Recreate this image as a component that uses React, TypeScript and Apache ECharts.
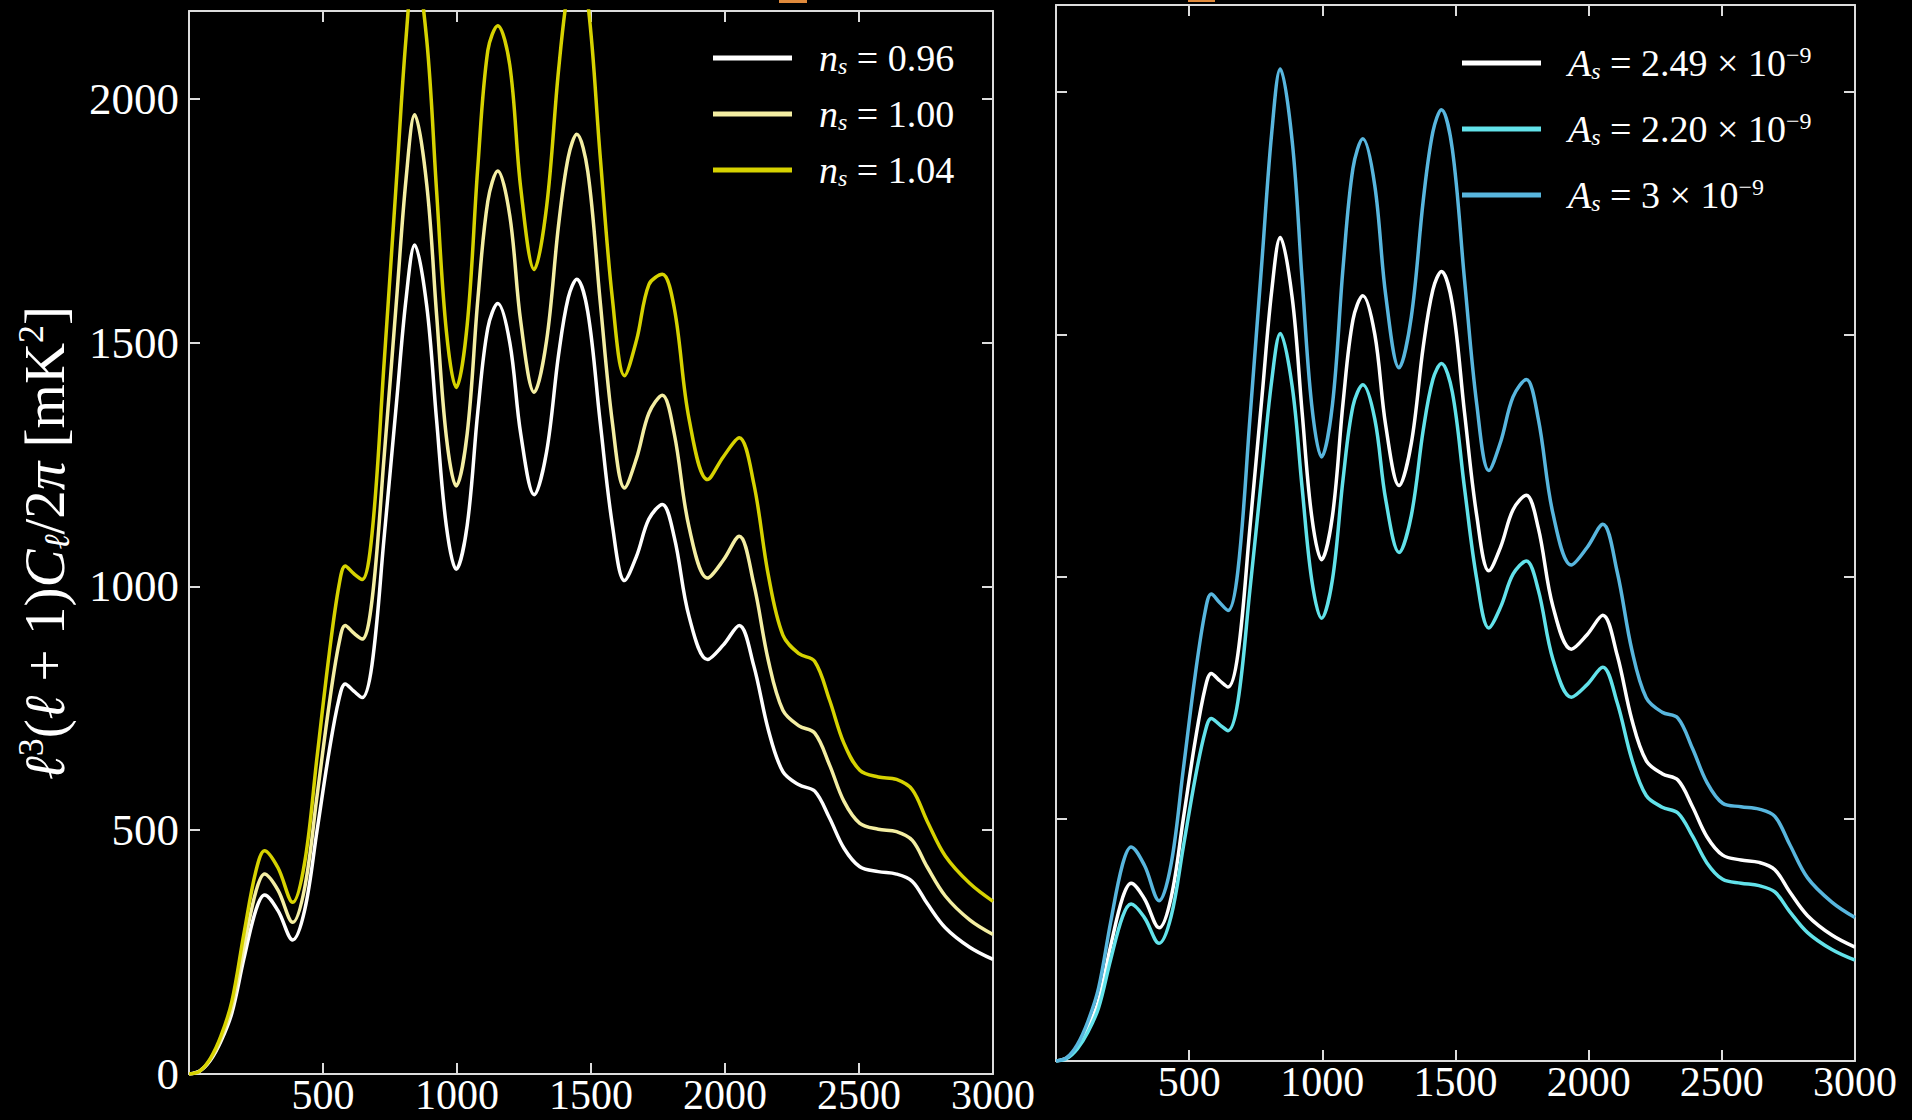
import { useEffect, useRef } from "react";
import * as echarts from "echarts";

// Multipole moments at which the spectra are sampled
const ells = [
  0, 40, 80, 120, 160, 205, 250, 282, 332, 387, 432, 478, 523, 560, 583, 615, 646, 683, 728, 774,
  810, 842, 887, 924, 960, 997, 1038, 1078, 1115, 1152, 1197, 1238, 1288, 1334, 1379, 1415, 1447,
  1488, 1534, 1580, 1625, 1670, 1716, 1766, 1811, 1866, 1935, 1994, 2053, 2107, 2162, 2216, 2276,
  2335, 2390, 2444, 2503, 2572, 2640, 2699, 2754, 2822, 2913, 3000,
];

// Fiducial spectrum: n_s = 0.96, A_s = 2.49e-9  [mK^2]
const fiducial = [
  0, 6, 28, 68, 125, 237, 337, 367, 335, 275, 337, 500, 662, 770, 800, 785, 772, 840, 1100, 1375,
  1590, 1700, 1575, 1340, 1125, 1035, 1125, 1360, 1530, 1580, 1500, 1312, 1188, 1275, 1475, 1592, 1630,
  1563, 1338, 1125, 1012, 1062, 1138, 1168, 1100, 938, 850, 880, 920, 838, 705, 620, 593,
  580, 525, 463, 425, 415, 410, 395, 350, 300, 260, 235,
];

// n_s = 1.00
const nsOne = [
  0, 6, 30, 73, 137, 261, 375, 410, 377, 311, 383, 571, 758, 884, 920, 904, 892, 972, 1265, 1585,
  1836, 1967, 1825, 1556, 1308, 1206, 1313, 1590, 1790, 1852, 1760, 1542, 1398, 1503, 1741, 1880, 1927,
  1851, 1586, 1335, 1202, 1263, 1355, 1392, 1312, 1121, 1017, 1054, 1103, 1006, 847, 746, 714,
  699, 634, 559, 514, 502, 497, 479, 425, 365, 316, 286,
];

// n_s = 1.04
const nsHigh = [
  0, 6, 32, 79, 149, 288, 417, 458, 423, 352, 435, 651, 861, 1003, 1042, 1026, 1014, 1108, 1458, 1832,
  2126, 2281, 2121, 1810, 1525, 1408, 1536, 1863, 2099, 2150, 2069, 1816, 1650, 1777, 2059, 2226, 2284,
  2197, 1884, 1589, 1432, 1505, 1619, 1640, 1570, 1343, 1219, 1266, 1305, 1212, 1022, 900, 862,
  846, 767, 678, 623, 609, 604, 583, 519, 447, 391, 354,
];

// A_s = 2.20e-9
const asLow = [
  0, 5, 25, 60, 110, 209, 298, 324, 296, 243, 298, 442, 585, 680, 707, 694, 682, 742, 972, 1215,
  1405, 1502, 1392, 1184, 994, 914, 994, 1202, 1352, 1396, 1325, 1159, 1050, 1126, 1303, 1407, 1440,
  1381, 1182, 994, 894, 938, 1005, 1032, 972, 829, 751, 777, 813, 740, 623, 548, 524,
  512, 464, 409, 375, 367, 362, 349, 309, 265, 230, 208,
];

// A_s = 3e-9
const asHigh = [
  0, 7, 34, 82, 151, 286, 406, 442, 404, 331, 406, 602, 798, 928, 964, 946, 930, 1012, 1325, 1657,
  1916, 2048, 1898, 1614, 1355, 1247, 1355, 1639, 1843, 1904, 1807, 1581, 1431, 1536, 1777, 1918, 1964,
  1883, 1612, 1355, 1219, 1279, 1371, 1407, 1325, 1130, 1024, 1060, 1108, 1010, 849, 750, 720,
  708, 645, 575, 532, 525, 520, 505, 448, 378, 328, 296,
];

const xTicks = [0, 500, 1000, 1500, 2000, 2500, 3000];
const yTicks = [0, 500, 1000, 1500, 2000];

const leftNames = ["n_s = 0.96", "n_s = 1.00", "n_s = 1.04"];
const rightNames = ["A_s = 2.49e-9", "A_s = 2.20e-9", "A_s = 3e-9"];

const legendLabels: Record<string, string> = {
  "n_s = 0.96": "{it|n}{sub|s}{rm| = 0.96}",
  "n_s = 1.00": "{it|n}{sub|s}{rm| = 1.00}",
  "n_s = 1.04": "{it|n}{sub|s}{rm| = 1.04}",
  "A_s = 2.49e-9": "{it|A}{sub|s}{rm| = 2.49 × 10}{sup|−9}",
  "A_s = 2.20e-9": "{it|A}{sub|s}{rm| = 2.20 × 10}{sup|−9}",
  "A_s = 3e-9": "{it|A}{sub|s}{rm| = 3 × 10}{sup|−9}",
};

const SERIF = "'Liberation Serif', 'DejaVu Serif', serif";
const FRAME = "#dcdcdc";

const pairs = (ys: number[]) => ells.map((l, i) => [l, ys[i]]);

const legendRich = {
  it: { fontFamily: SERIF, fontStyle: "italic", fontSize: 38, color: "#fff", lineHeight: 40 },
  rm: { fontFamily: SERIF, fontSize: 38, color: "#fff", lineHeight: 40 },
  sub: { fontFamily: SERIF, fontStyle: "italic", fontSize: 24, color: "#fff", lineHeight: 22, verticalAlign: "bottom" },
  sup: { fontFamily: SERIF, fontSize: 24, color: "#fff", lineHeight: 22, verticalAlign: "top" },
};

function makeX(gridIndex: number, position: "bottom" | "top") {
  const bottom = position === "bottom";
  return {
    type: "value",
    gridIndex,
    position,
    min: xTicks[0],
    max: xTicks[xTicks.length - 1],
    interval: xTicks[1] - xTicks[0],
    axisLine: { show: true, onZero: false, lineStyle: { color: FRAME, width: 2 } },
    axisTick: { show: true, inside: true, length: 11, lineStyle: { color: FRAME, width: 2 } },
    axisLabel: {
      show: bottom,
      showMinLabel: false,
      margin: 2,
      color: "#fff",
      fontFamily: SERIF,
      fontSize: 42,
      lineHeight: 38,
      formatter: (v: number) => String(v),
    },
    splitLine: { show: false },
  };
}

function makeY(gridIndex: number, position: "left" | "right", labels: boolean) {
  return {
    type: "value",
    gridIndex,
    position,
    min: yTicks[0],
    max: 2180,
    interval: yTicks[1] - yTicks[0],
    axisLine: { show: true, onZero: false, lineStyle: { color: FRAME, width: 2 } },
    axisTick: { show: true, inside: true, length: 11, lineStyle: { color: FRAME, width: 2 } },
    axisLabel: {
      show: labels,
      showMaxLabel: false,
      margin: 10,
      color: "#fff",
      fontFamily: SERIF,
      fontSize: 45,
      formatter: (v: number) => String(v),
    },
    splitLine: { show: false },
  };
}

function line(name: string, ys: number[], color: string, axis: number) {
  return {
    type: "line",
    name,
    xAxisIndex: axis,
    yAxisIndex: axis,
    data: pairs(ys),
    smooth: 0.35,
    showSymbol: false,
    symbol: "none",
    color,
    lineStyle: { color, width: 3.5 },
    clip: true,
  };
}

function legendFor(names: string[], left: number, top: number, gap: number) {
  return {
    data: names,
    orient: "vertical",
    left,
    top,
    icon: "rect",
    itemWidth: 79,
    itemHeight: 5,
    itemGap: gap,
    selectedMode: false,
    formatter: (n: string) => legendLabels[n],
    textStyle: { color: "#fff", fontFamily: SERIF, fontSize: 38, padding: [0, 0, 0, 22], rich: legendRich },
  };
}

export default function App() {
  const ref = useRef<HTMLDivElement>(null);

  useEffect(() => {
    if (!ref.current) return;
    const chart = echarts.init(ref.current, undefined, { renderer: "svg" });
    chart.setOption({
      animation: false,
      backgroundColor: "#000",
      grid: [
        { left: 189, top: 11, width: 804, height: 1063 },
        { left: 1056, top: 5, width: 799, height: 1056 },
      ],
      xAxis: [makeX(0, "bottom"), makeX(0, "top"), makeX(1, "bottom"), makeX(1, "top")],
      yAxis: [makeY(0, "left", true), makeY(0, "right", false), makeY(1, "left", false), makeY(1, "right", false)],
      legend: [legendFor(leftNames, 708, 34, 17), legendFor(rightNames, 1457, 38, 26)],
      series: [
        line(leftNames[0], fiducial, "#ffffff", 0),
        line(leftNames[1], nsOne, "#f4eea2", 0),
        line(leftNames[2], nsHigh, "#d6d200", 0),
        line(rightNames[0], fiducial, "#ffffff", 2),
        line(rightNames[1], asLow, "#62e2ea", 2),
        line(rightNames[2], asHigh, "#58b6de", 2),
      ],
      graphic: [
        {
          type: "text",
          x: 44,
          y: 543,
          rotation: Math.PI / 2,
          style: {
            text: "{it|ℓ}{sup|3}{rm|(}{it|ℓ}{rm| + 1)}{it|C}{sub|ℓ}{rm|/2}{it|π}{rm| [mK}{sup|2}{rm|]}",
            align: "center",
            verticalAlign: "middle",
            fill: "#fff",
            rich: {
              it: { fontFamily: SERIF, fontStyle: "italic", fontSize: 57, fill: "#fff", lineHeight: 62 },
              rm: { fontFamily: SERIF, fontSize: 57, fill: "#fff", lineHeight: 62 },
              sub: { fontFamily: SERIF, fontStyle: "italic", fontSize: 36, fill: "#fff", lineHeight: 33, verticalAlign: "bottom" },
              sup: { fontFamily: SERIF, fontSize: 36, fill: "#fff", lineHeight: 33, verticalAlign: "top" },
            },
          },
        },
        { type: "rect", shape: { x: 779, y: 0, width: 28, height: 3 }, style: { fill: "#e08a3c" } },
        { type: "rect", shape: { x: 1188, y: 0, width: 27, height: 2 }, style: { fill: "#e08a3c" } },
      ],
    });
    return () => chart.dispose();
  }, []);

  return (
    <div
      ref={ref}
      style={{ position: "fixed", left: 0, top: 0, width: 1912, height: 1120, background: "#000" }}
    />
  );
}
